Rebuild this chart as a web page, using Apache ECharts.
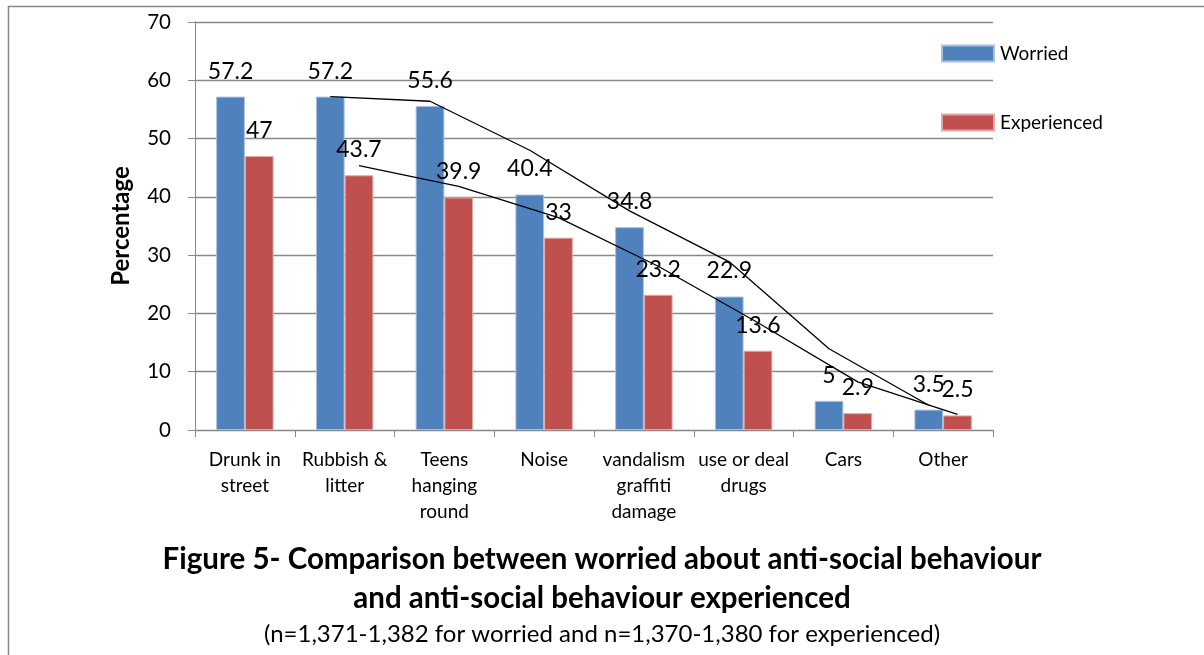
<!DOCTYPE html>
<html>
<head>
<meta charset="utf-8">
<title>Worried vs experienced anti-social behaviour</title>
<script src="https://cdn.jsdelivr.net/npm/echarts@6/dist/echarts.min.js"></script>
<style>
  html, body { margin: 0; padding: 0; background: #fff; }
  #chart { width: 1204px; height: 655px; }
</style>
</head>
<body>
<div id="chart"></div>
<script>
// Survey categories and percentages
const categories = [
  'Drunk in\nstreet', 'Rubbish &\nlitter', 'Teens\nhanging\nround', 'Noise',
  'vandalism\ngraffiti\ndamage', 'use or deal\ndrugs', 'Cars', 'Other'
];
const worried = [57.2, 57.2, 55.6, 40.4, 34.8, 22.9, 5, 3.5];
const experienced = [47, 43.7, 39.9, 33, 23.2, 13.6, 2.9, 2.5];
const yAxisMin = 0;
const yAxisMax = 70;
const yAxisStep = 10;

const FONT = 'Lato, "Open Sans", sans-serif';
const BAR_FRACTION = 0.288; // bar width as a share of one category band

// Two-period moving-average trendline, placed at each bar's centre
function movingAverage(values, period, shift) {
  const pts = [];
  for (let i = period - 1; i < values.length; i++) {
    let sum = 0;
    for (let k = 0; k < period; k++) sum += values[i - k];
    pts.push([i + shift, sum / period]);
  }
  return pts;
}

const labelStyle = {
  show: true,
  position: 'top',
  distance: 14,
  color: '#000',
  fontFamily: FONT,
  fontSize: 23
};

const chart = echarts.init(document.getElementById('chart'), null, { renderer: 'canvas' });

chart.setOption({
  backgroundColor: '#fff',
  animation: false,
  textStyle: { fontFamily: FONT },
  title: {
    text: 'Figure 5- Comparison between worried about anti-social behaviour\nand anti-social behaviour experienced',
    subtext: '(n=1,371-1,382 for worried and n=1,370-1,380 for experienced)',
    left: 'center',
    top: 535,
    itemGap: 3,
    textStyle: { fontFamily: FONT, fontSize: 29.5, fontWeight: 'bold', color: '#000', lineHeight: 39 },
    subtextStyle: { fontFamily: FONT, fontSize: 24, color: '#000', lineHeight: 26 }
  },
  legend: {
    orient: 'vertical',
    left: 941,
    top: 44,
    padding: 0,
    itemWidth: 52,
    itemHeight: 16,
    itemGap: 50,
    icon: 'rect',
    data: ['Worried', 'Experienced'],
    textStyle: { fontFamily: FONT, fontSize: 19, color: '#000', lineHeight: 16, padding: [0, 0, 0, 1] }
  },
  grid: { left: 195, right: 211, top: 22, bottom: 225, containLabel: false },
  xAxis: [
    {
      type: 'category',
      data: categories,
      axisLine: { show: true, lineStyle: { color: '#888', width: 1 } },
      axisTick: { show: true, length: 7, lineStyle: { color: '#888' } },
      axisLabel: {
        interval: 0, margin: 17, color: '#000', fontFamily: FONT, fontSize: 19, lineHeight: 26
      },
      splitLine: { show: false }
    },
    {
      type: 'value',
      min: -0.5,
      max: categories.length - 0.5,
      show: false
    }
  ],
  yAxis: {
    type: 'value',
    min: yAxisMin,
    max: yAxisMax,
    interval: yAxisStep,
    name: 'Percentage',
    nameLocation: 'middle',
    nameGap: 62,
    nameTextStyle: { fontFamily: FONT, fontSize: 24, fontWeight: 'bold', color: '#000' },
    axisLine: { show: true, onZero: false, lineStyle: { color: '#888', width: 1 } },
    axisTick: { show: true, inside: false, length: 7, lineStyle: { color: '#888' } },
    axisLabel: { margin: 24, color: '#000', fontFamily: FONT, fontSize: 20.5 },
    splitLine: { show: true, lineStyle: { color: '#888', width: 1.3 } }
  },
  series: [
    {
      name: 'Worried',
      type: 'bar',
      data: worried,
      barWidth: (BAR_FRACTION * 100) + '%',
      barGap: '0%',
      itemStyle: { color: '#4F81BD', borderColor: '#A9C0DE', borderWidth: 1 },
      label: labelStyle,
      z: 2
    },
    {
      name: 'Experienced',
      type: 'bar',
      data: experienced,
      barWidth: (BAR_FRACTION * 100) + '%',
      barGap: '0%',
      itemStyle: { color: '#C0504D', borderColor: '#E0A9A7', borderWidth: 1 },
      label: labelStyle,
      z: 2
    },
    {
      name: 'Worried trend',
      type: 'line',
      xAxisIndex: 1,
      data: movingAverage(worried, 2, -BAR_FRACTION / 2),
      showSymbol: false,
      symbol: 'none',
      lineStyle: { color: '#000', width: 1.3 },
      silent: true,
      z: 5
    },
    {
      name: 'Experienced trend',
      type: 'line',
      xAxisIndex: 1,
      data: movingAverage(experienced, 2, BAR_FRACTION / 2),
      showSymbol: false,
      symbol: 'none',
      lineStyle: { color: '#000', width: 1.3 },
      silent: true,
      z: 5
    }
  ],
  graphic: [
    {
      type: 'polyline',
      shape: { points: [[8.5, 655], [8.5, 6.5], [1204, 6.5]] },
      style: { stroke: '#888', lineWidth: 1.5, fill: null },
      silent: true
    }
  ]
});
</script>
</body>
</html>
